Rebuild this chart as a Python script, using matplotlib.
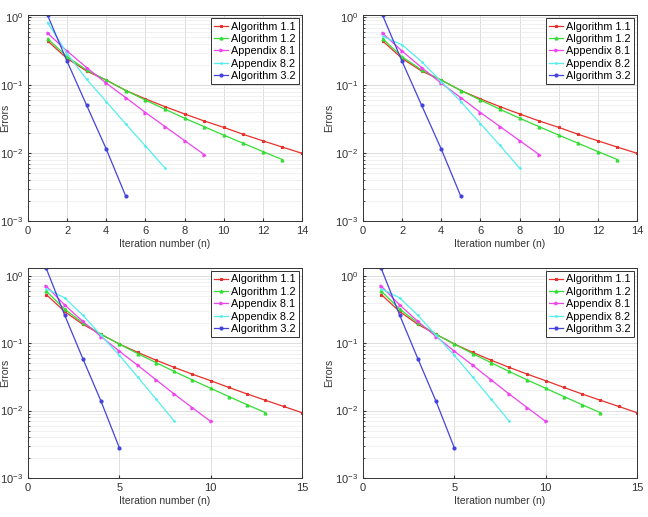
import matplotlib.pyplot as plt
import numpy as np

plt.rcParams.update({'font.family': 'Liberation Sans', 'font.size': 7.5})

labels = ['Algorithm 1.1', 'Algorithm 1.2', 'Appendix 8.1', 'Appendix 8.2', 'Algorithm 3.2']
colors = ['#e8312a', '#33dd33', '#ee44ee', '#55eeee', '#4444dd']
markers = ['*', '^', '>', '.', 'o']

# top panels
alg11_top = [0.445, 0.245, 0.16, 0.118, 0.083, 0.0625, 0.048, 0.0375, 0.0296, 0.0238, 0.0188, 0.0151, 0.0122, 0.0099]
alg12_top = [0.48, 0.26, 0.166, 0.118, 0.083, 0.06, 0.044, 0.0325, 0.0244, 0.0183, 0.0139, 0.0105, 0.008]
app81_top = [0.577, 0.315, 0.18, 0.106, 0.065, 0.0394, 0.0245, 0.0152, 0.0095]
app82_tl = [0.83, 0.29, 0.121, 0.057, 0.0266, 0.0127, 0.006]
app82_tr = [0.52, 0.39, 0.22, 0.112, 0.057, 0.027, 0.0129, 0.006]
alg32_top = [1.06, 0.222, 0.05, 0.0114, 0.0023]

# bottom panels
alg11_bot = [0.525, 0.295, 0.19, 0.135, 0.097, 0.073, 0.056, 0.0437, 0.0346, 0.0277, 0.022, 0.0176, 0.0142, 0.0115, 0.0093]
alg12_bot = [0.59, 0.32, 0.2, 0.135, 0.097, 0.07, 0.0515, 0.038, 0.0284, 0.0214, 0.0161, 0.0122, 0.0093]
app81_bot = [0.70, 0.37, 0.21, 0.125, 0.076, 0.047, 0.0287, 0.0176, 0.011, 0.0069]
app82_bot = [0.64, 0.47, 0.26, 0.13, 0.066, 0.0315, 0.0149, 0.007]
alg32_bot = [1.28, 0.263, 0.059, 0.0137, 0.0028]

panels = [
    ([alg11_top, alg12_top, app81_top, app82_tl, alg32_top], 14, np.arange(0, 15, 2), 1.07, False),
    ([alg11_top, alg12_top, app81_top, app82_tr, alg32_top], 14, np.arange(0, 15, 2), 1.07, True),
    ([alg11_bot, alg12_bot, app81_bot, app82_bot, alg32_bot], 15, [0, 5, 10, 15], 1.3, False),
    ([alg11_bot, alg12_bot, app81_bot, app82_bot, alg32_bot], 15, [0, 5, 10, 15], 1.3, True),
]

fig = plt.figure(figsize=(6.48, 5.17), dpi=100)
W, H = 648, 517
rects = [(28, 15, 274, 206), (363, 15, 274, 206), (28, 268, 274, 210), (363, 268, 274, 210)]

for (series, xmax, xt, ytop, right), (l, t, w, h) in zip(panels, rects):
    ax = fig.add_axes([l / W, 1 - (t + h) / H, w / W, h / H])
    for vals, lab, c, m in zip(series, labels, colors, markers):
        n = np.arange(1, len(vals) + 1)
        ax.semilogy(n, vals, color=c, marker=m, markersize=2, linewidth=0.9, label=lab)
    ax.set_xlim(0, xmax)
    ax.set_ylim(1e-3, ytop)
    ax.set_xticks(xt)
    ax.set_xlabel('Iteration number (n)', color='#333333', labelpad=2)
    ax.set_ylabel('Errors', color='#333333', labelpad=1)
    if not right:
        # left column: label sits right at the figure edge
        ax.yaxis.set_label_coords(-18 / w, 0.5)
    ax.grid(True, which='major', color='#d8d8d8', linewidth=0.6)
    ax.grid(True, which='minor', axis='y', color='#ececec', linewidth=0.5)
    ax.tick_params(which='both', direction='in', colors='#333333', length=2.5, labelsize=8)
    ax.tick_params(which='minor', length=1.5)
    for s in ax.spines.values():
        s.set_color('#333333')
        s.set_linewidth(0.7)
    ax.set_axisbelow(True)
    leg = ax.legend(loc='upper right', fontsize=7.8, handlelength=1.3, borderpad=0.3,
                    labelspacing=0.22, handletextpad=0.25, fancybox=False, framealpha=1,
                    borderaxespad=0.3)
    leg.get_frame().set_edgecolor('#333333')
    leg.get_frame().set_linewidth(0.7)

plt.savefig('out.png', dpi=100)
